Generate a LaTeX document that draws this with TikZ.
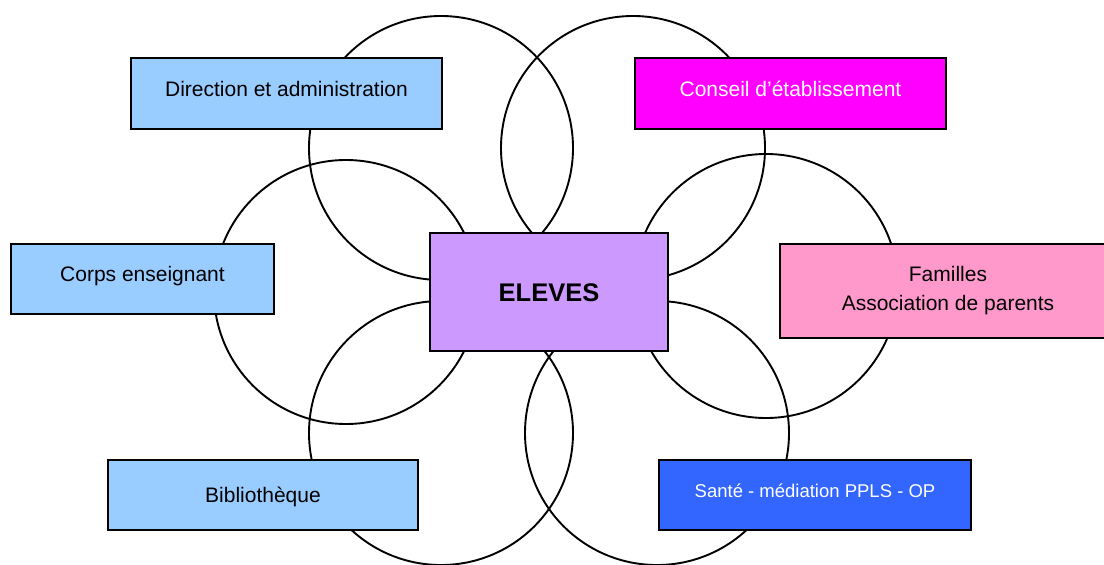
\documentclass[tikz,border=0pt]{standalone}
\usepackage{fontspec}
\setmainfont{Liberation Sans}
\definecolor{paleblue}{HTML}{99CCFF}
\definecolor{magentabox}{HTML}{FF00FF}
\definecolor{lavender}{HTML}{CC99FF}
\definecolor{pinkbox}{HTML}{FF99CC}
\definecolor{bluebox}{HTML}{3366FF}
\begin{document}
\begin{tikzpicture}
  [x=1pt,y=-1pt,line width=1.9pt,
   every node/.style={draw,rectangle,line width=1.9pt,align=center,
     font=\fontsize{21}{29}\selectfont},
   upper/.style={text height=10pt,text depth=5pt},
   mid/.style={text height=15pt,text depth=0pt}]
  \useasboundingbox (0,0) rectangle (1104,565);
  \clip (0,0) rectangle (1104,565);

  \foreach \cx/\cy in {441/148,633/148,346/292,766/286,441/433,657/433}
    \draw (\cx,\cy) circle [radius=132pt];

  \node[upper,fill=paleblue,minimum width=311pt,minimum height=71pt] (dir) at (286.5,93.5) {Direction et administration};
  \node[upper,fill=magentabox,text=white,minimum width=311pt,minimum height=71pt] (cons) at (790.5,93.5) {Conseil d’établissement};
  \node[upper,fill=paleblue,minimum width=263pt,minimum height=70pt] (corps) at (142.5,279) {Corps enseignant};
  \node[fill=lavender,minimum width=238pt,minimum height=118pt,text height=18pt,text depth=0pt,
    font=\fontsize{25.5}{30}\selectfont\bfseries] (eleves) at (549,292) {ELEVES};
  \node[fill=pinkbox,minimum width=336pt,minimum height=94pt] (fam) at (948,291) {Familles\\Association de parents};
  \node[mid,fill=paleblue,minimum width=310pt,minimum height=70pt] (bib) at (263,495) {Bibliothèque};
  \node[upper,fill=bluebox,text=white,minimum width=312pt,minimum height=70pt,
    font=\fontsize{18.5}{22}\selectfont] (sante) at (815,495) {Santé - médiation PPLS - OP};

\end{tikzpicture}
\end{document}
